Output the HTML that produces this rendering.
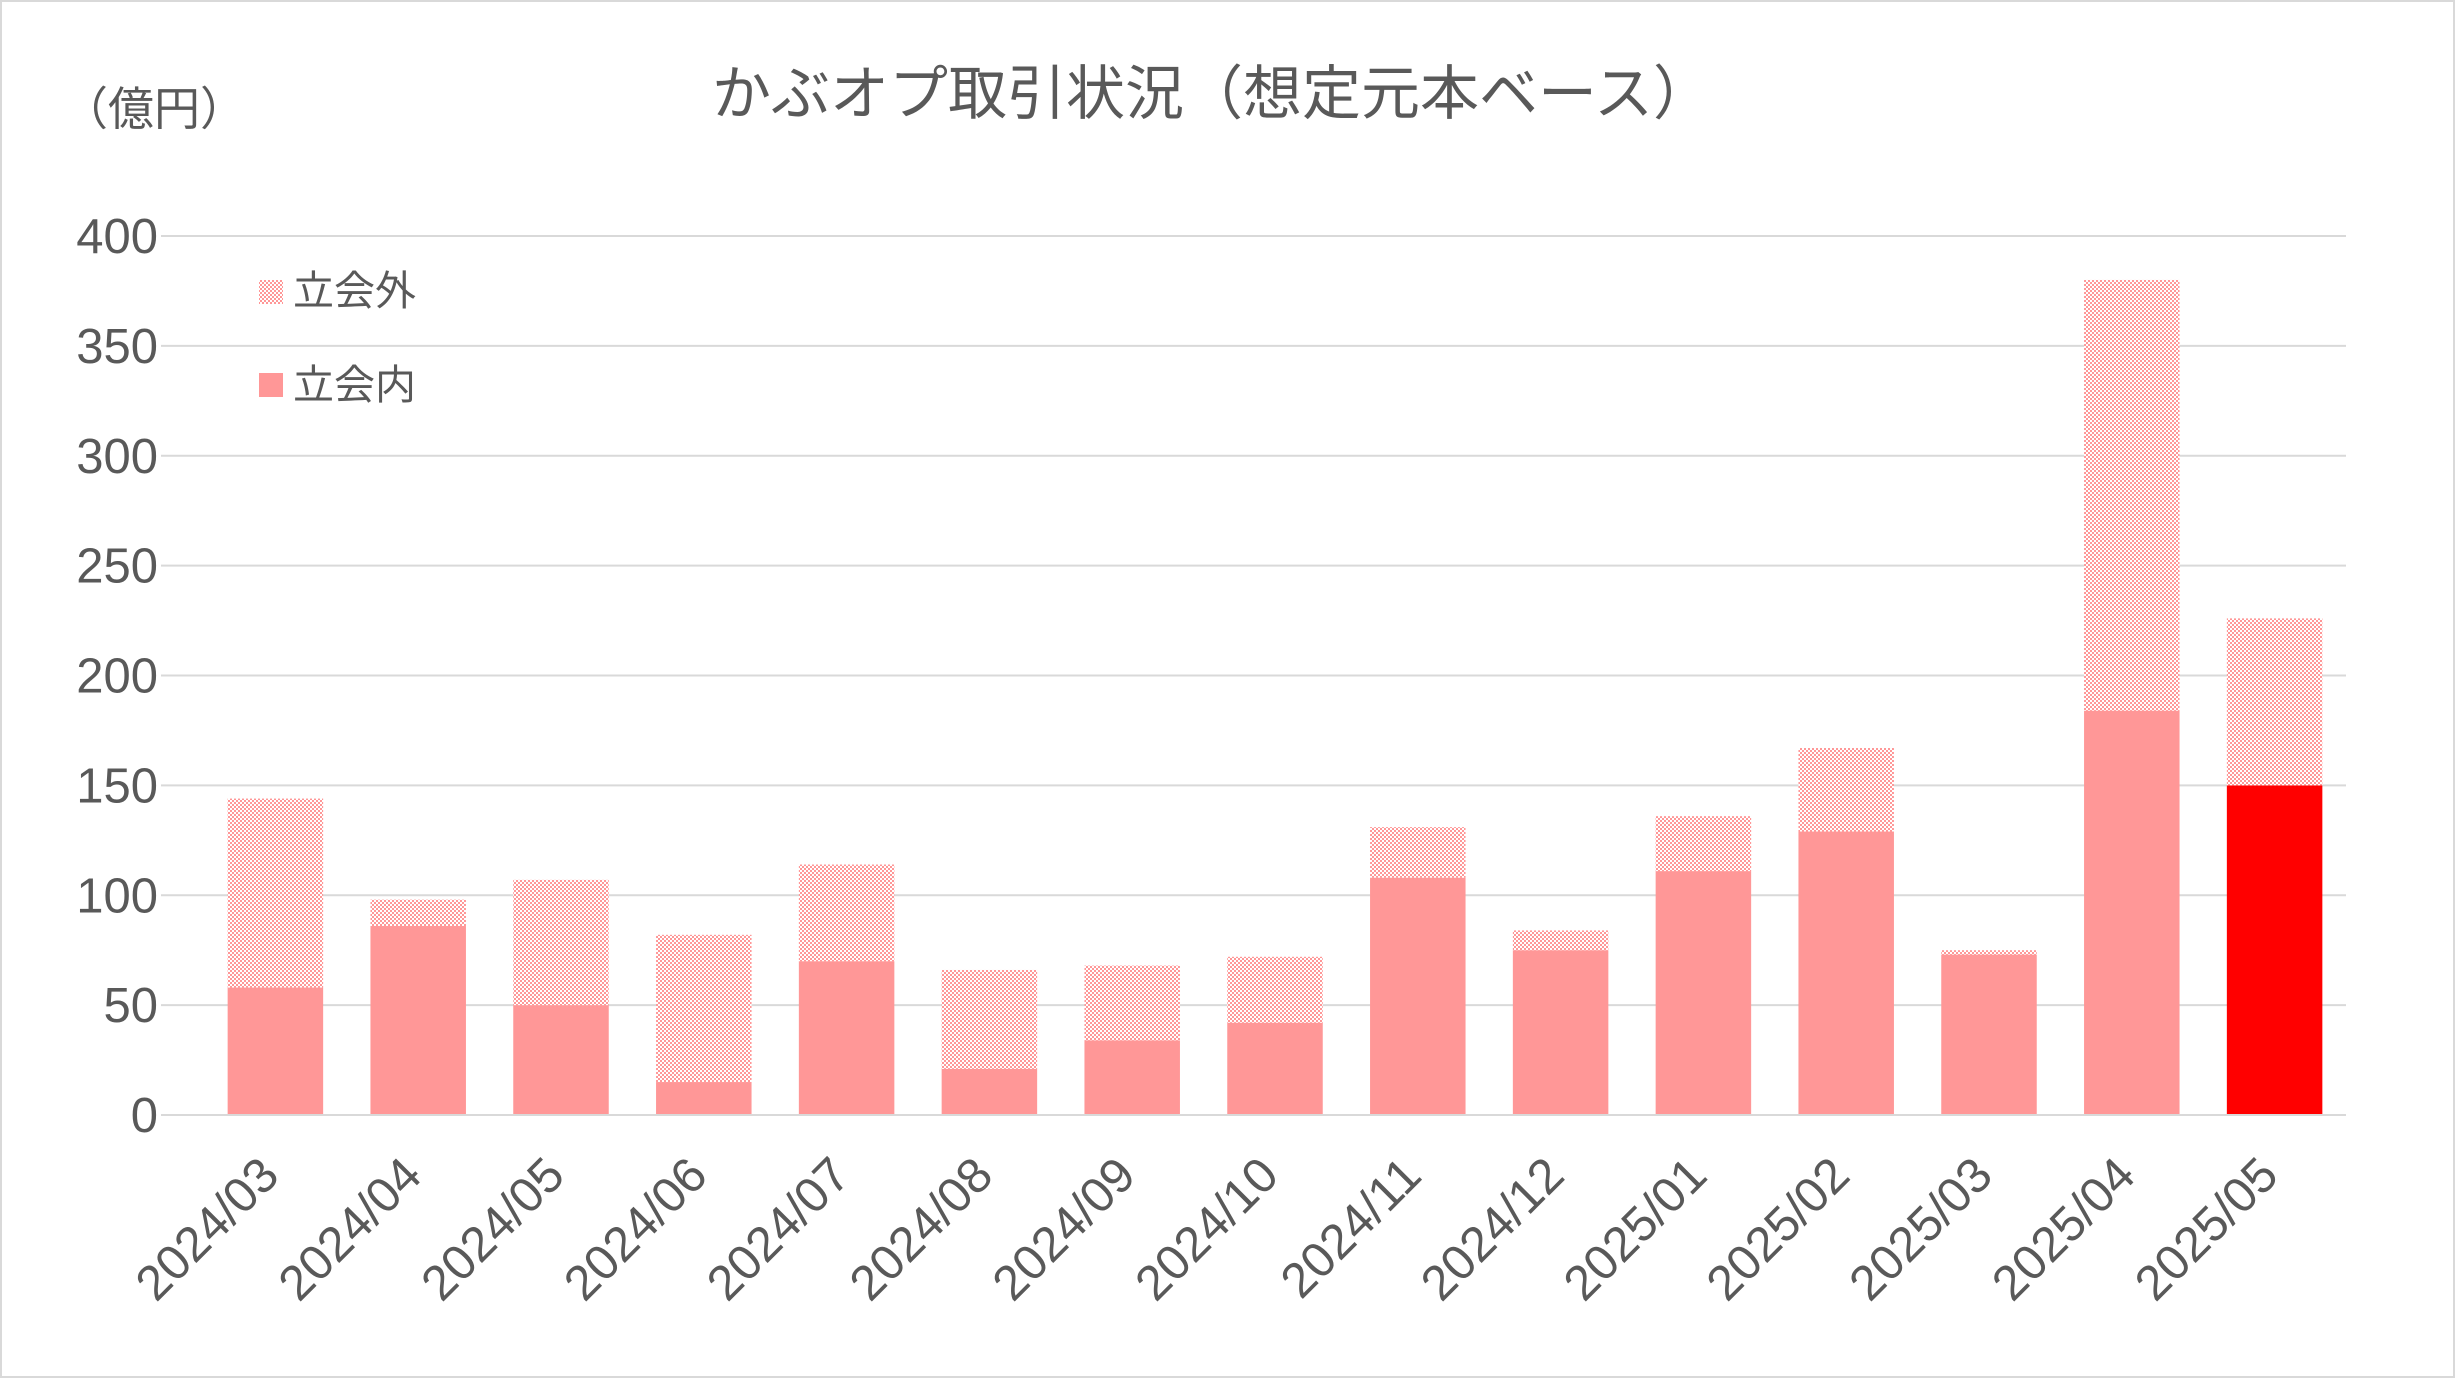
<!DOCTYPE html>
<html><head><meta charset="utf-8"><style>
html,body{margin:0;padding:0;background:#fff}
svg{display:block;font-family:"Liberation Sans","Noto Sans CJK JP",sans-serif}
</style></head><body>
<svg id="chart" width="2455" height="1378" viewBox="0 0 2455 1378" xmlns="http://www.w3.org/2000/svg">
<defs>
<pattern id="chk" width="4" height="4" patternUnits="userSpaceOnUse">
<rect width="4" height="4" fill="#fff"/><rect width="2" height="2" fill="#ff9797"/><rect x="2" y="2" width="2" height="2" fill="#ff9797"/>
</pattern>
</defs>
<rect x="1" y="1" width="2453" height="1376" fill="#fff" stroke="#d9d9d9" stroke-width="2"/>
<text x="1212" y="114" text-anchor="middle" font-size="59" fill="#595959">かぶオプ取引状況（想定元本ベース）</text>
<text x="62" y="125" font-size="46" fill="#595959">（億円）</text>
<g id="grid"></g><g id="bars"></g><g id="ylab"></g><g id="xlab"></g>
<g>
<rect x="259" y="280" width="24" height="24" fill="url(#chk)"/>
<text x="293" y="305" font-size="41" fill="#595959">立会外</text>
<rect x="259" y="373" width="24" height="24" fill="#ff9797"/>
<text x="293" y="399" font-size="41" fill="#595959">立会内</text>
</g>
</svg>
<script>
const categories=["2024/03","2024/04","2024/05","2024/06","2024/07","2024/08","2024/09","2024/10","2024/11","2024/12","2025/01","2025/02","2025/03","2025/04","2025/05"];
const inside=[58,86,50,15,70,21,34,42,108,75,111,129,73,184,150];
const outside=[86,12,57,67,44,45,34,30,23,9,25,38,2,196,76];
const yTicks=[0,50,100,150,200,250,300,350,400];
const NS="http://www.w3.org/2000/svg";
const GL=161,L=204,R=2346,Y0=1115,Y400=236;
const y=v=>Y0-(v/400)*(Y0-Y400);
const step=(R-L)/categories.length;
const cx=i=>L+step*(i+0.5);
const bw=95.5;
function mk(tag,attrs,parent){const e=document.createElementNS(NS,tag);for(const k in attrs)e.setAttribute(k,attrs[k]);document.getElementById(parent).appendChild(e);return e;}
yTicks.forEach(t=>{
 const g=mk("line",{x1:GL,x2:R,y1:y(t),y2:y(t),stroke:"#d9d9d9","stroke-width":2},"grid");
 
 
 const tx=mk("text",{x:158,y:y(t)+17,"text-anchor":"end","font-size":49,fill:"#595959"},"ylab");
 tx.textContent=t;
 
 
});
categories.forEach((c,i)=>{
 const last=i===categories.length-1;
 const a=mk("rect",{x:cx(i)-bw/2,y:y(inside[i]),width:bw,height:y(0)-y(inside[i]),fill:last?"#ff0000":"#ff9797"},"bars");
 
 
 const b=mk("rect",{x:cx(i)-bw/2,y:y(inside[i]+outside[i]),width:bw,height:y(inside[i])-y(inside[i]+outside[i]),fill:"url(#chk)"},"bars");
 
 
 const px=cx(i)+6, py=1178;
 const t=mk("text",{x:px,y:py,"text-anchor":"end","font-size":49,fill:"#595959",transform:`rotate(-45 ${px} ${py})`},"xlab");
 t.textContent=c;
 
 
});
mk("line",{x1:GL,x2:R,y1:Y0,y2:Y0,stroke:"#d9d9d9","stroke-width":2},"bars");
</script>
</body></html>
